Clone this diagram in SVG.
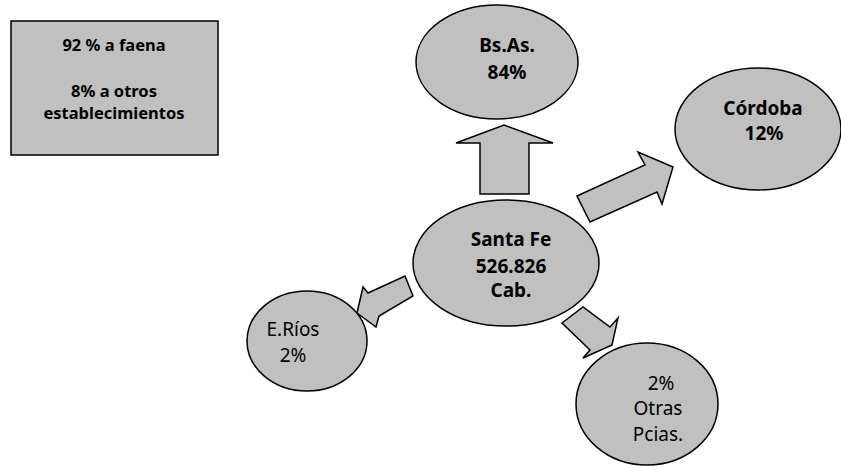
<svg xmlns="http://www.w3.org/2000/svg" width="841" height="466" viewBox="0 0 841 466">
<style>
.shape{fill:#c0c0c0;stroke:#000;stroke-width:1.5;stroke-linejoin:miter}
.t{font-family:"Noto Sans","DejaVu Sans",sans-serif;fill:#000;text-anchor:middle}
.b{font-weight:bold}
</style>
<rect width="841" height="466" fill="#fff"/>
<g id="info">
<rect class="shape" x="11" y="21" width="207" height="134"/>
<text class="t b" font-size="16.5" x="114" y="51">92 % a faena</text>
<text class="t b" font-size="16.5" x="114" y="97">8% a otros</text>
<text class="t b" font-size="16.5" x="114" y="119">establecimientos</text>
</g>
<g id="connectors">
<polygon class="shape" points="504,125 553,143 529,143 529,194 480,194 480,143 456,143"/>
<polygon class="shape" points="577,196 645,165 638,152 673,167 662,204 657,192 590,222"/>
<polygon class="shape" points="357,313 363,287 368,293 405,276 413,296 379,316 376,327"/>
<polygon class="shape" points="562,323 583,307 610,327 618,318 612,345 583,358 590,350"/>
</g>
<g id="bsas">
<ellipse class="shape" cx="497" cy="62" rx="81" ry="57"/>
<text class="t b" font-size="19" x="507" y="52">Bs.As.</text>
<text class="t b" font-size="19" x="507" y="79">84%</text>
</g>
<g id="cordoba">
<ellipse class="shape" cx="758" cy="129" rx="83" ry="61"/>
<text class="t b" font-size="19" x="763" y="115">Córdoba</text>
<text class="t b" font-size="19" x="764" y="140">12%</text>
</g>
<g id="santafe">
<ellipse class="shape" cx="506" cy="263" rx="93" ry="63"/>
<text class="t b" font-size="19" x="511" y="246">Santa Fe</text>
<text class="t b" font-size="19" x="511" y="273">526.826</text>
<text class="t b" font-size="19" x="511" y="297">Cab.</text>
</g>
<g id="erios">
<ellipse class="shape" cx="307" cy="341" rx="60" ry="50"/>
<text class="t" font-size="19" x="293" y="336">E.Ríos</text>
<text class="t" font-size="19" x="293" y="362">2%</text>
</g>
<g id="otras">
<ellipse class="shape" cx="647" cy="404" rx="71" ry="61"/>
<text class="t" font-size="19" x="661" y="390">2%</text>
<text class="t" font-size="19" x="658" y="415">Otras</text>
<text class="t" font-size="19" x="658" y="441">Pcias.</text>
</g>
</svg>
